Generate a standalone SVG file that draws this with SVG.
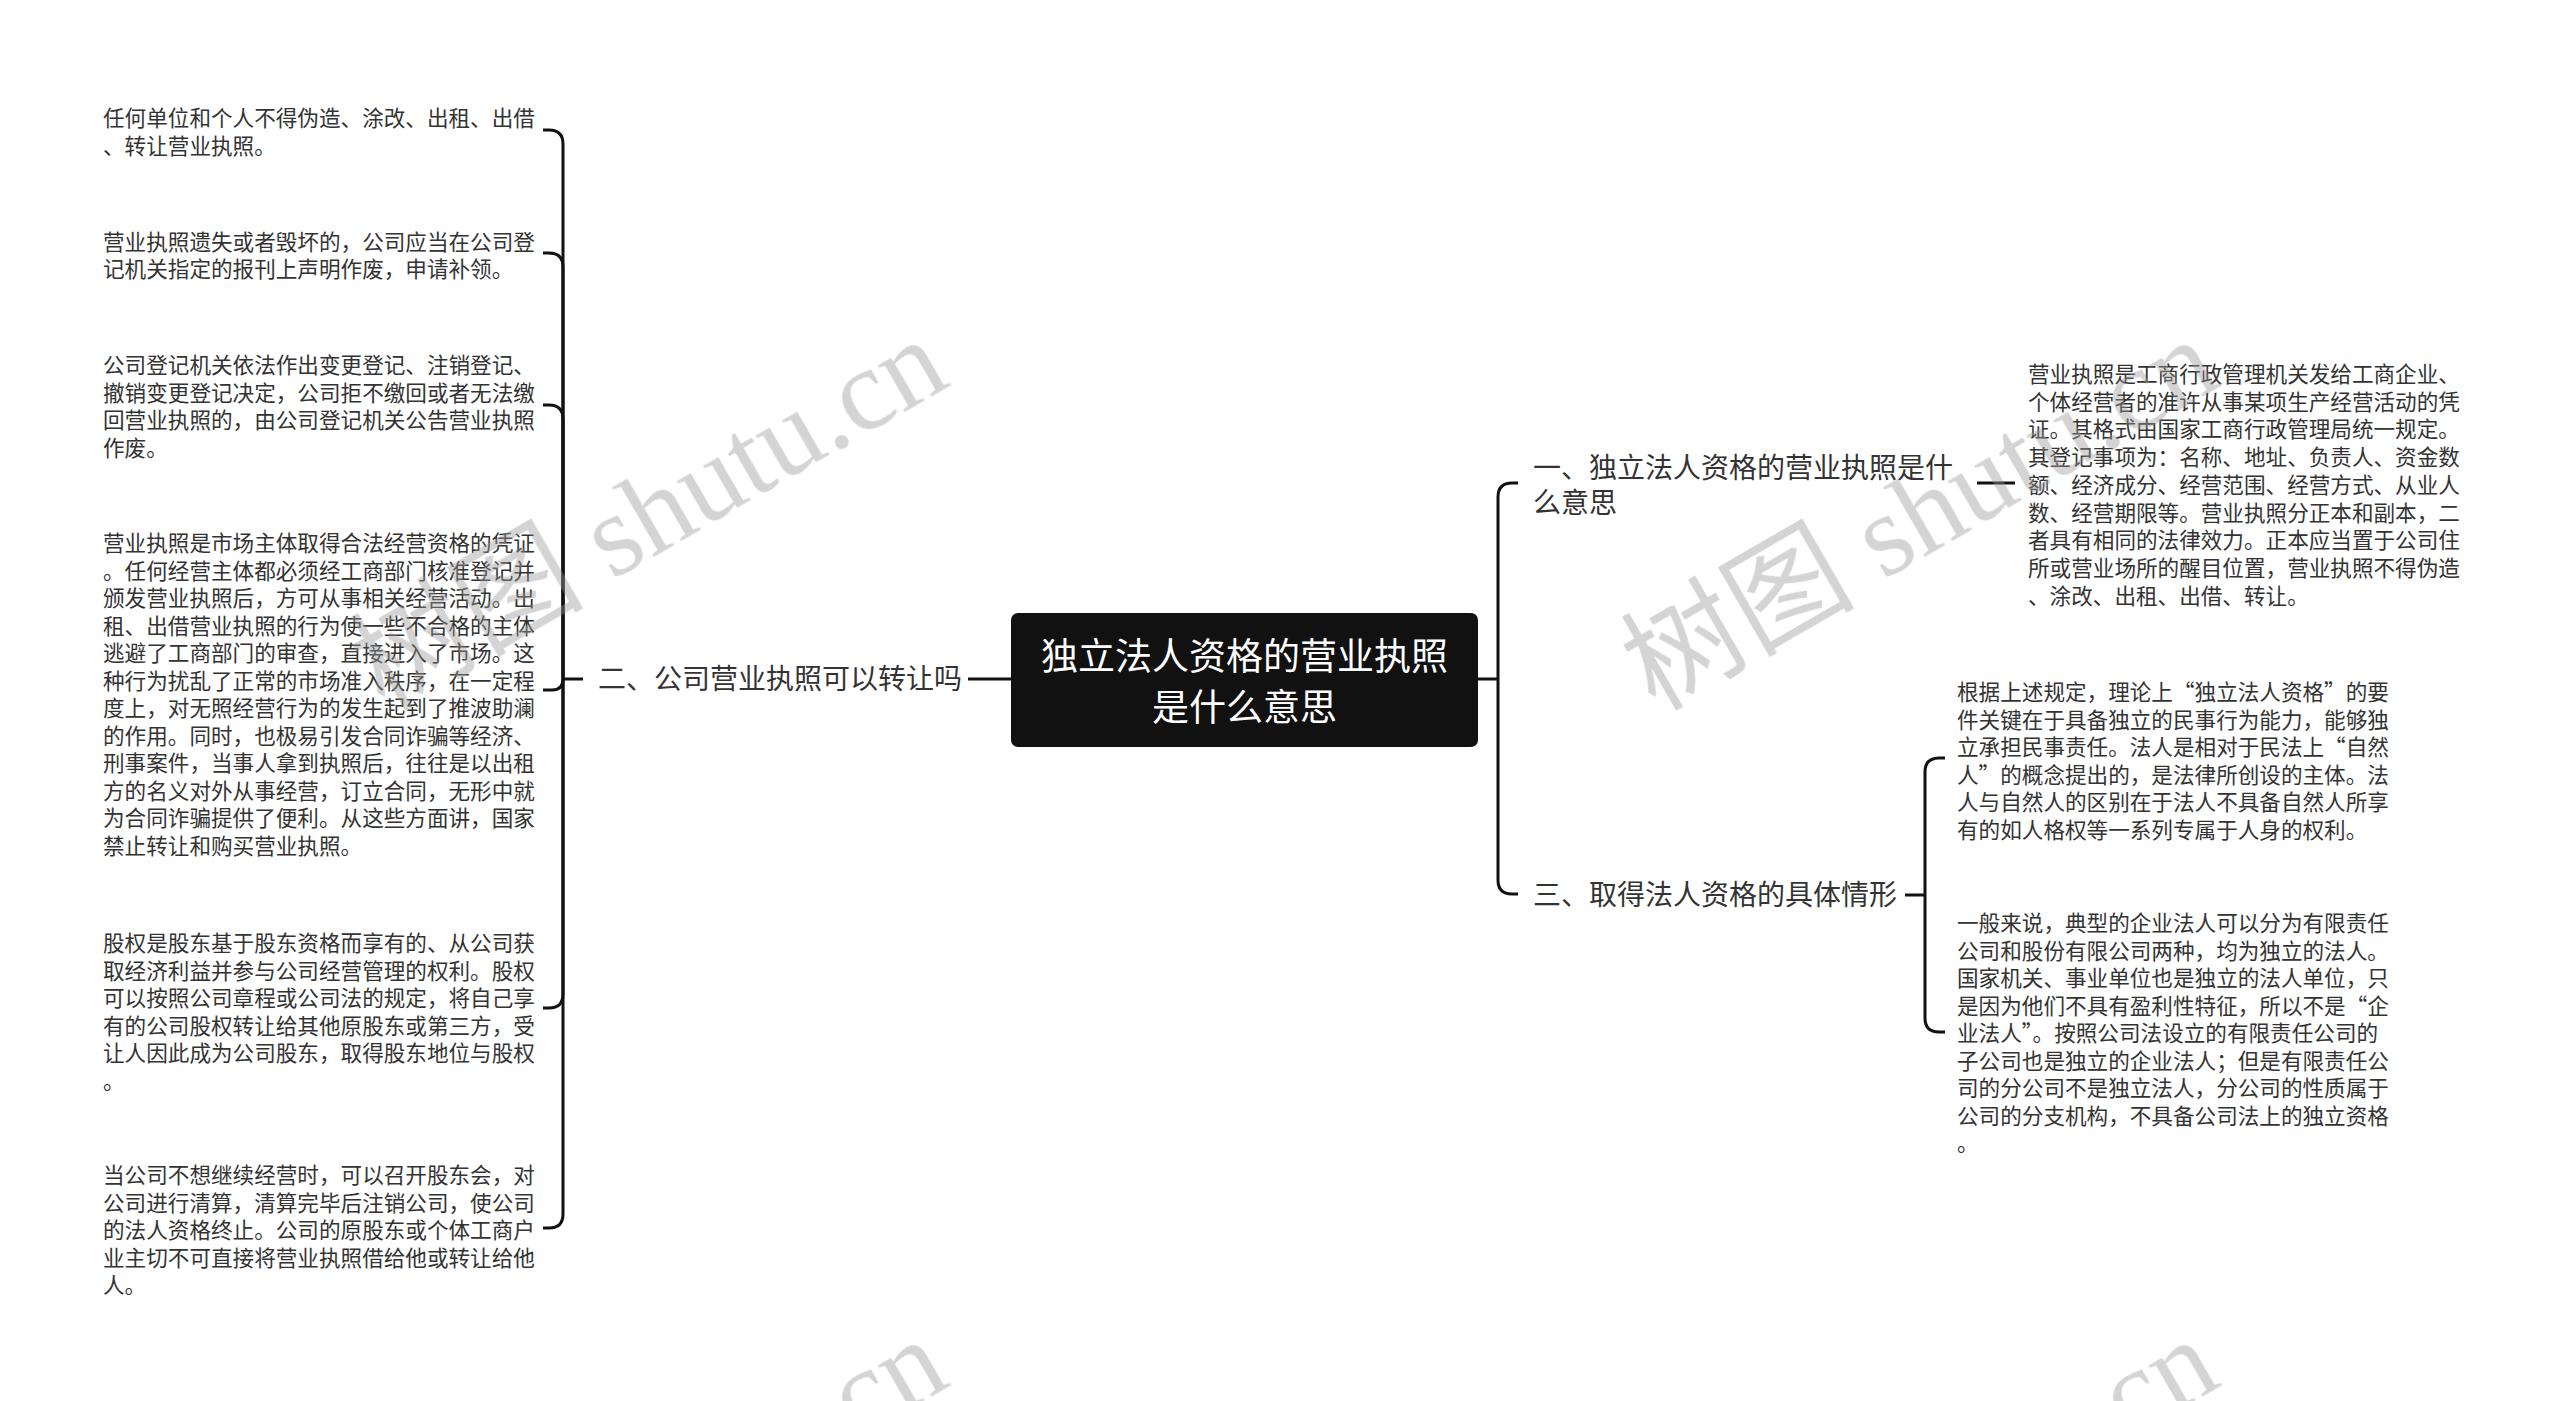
<svg xmlns="http://www.w3.org/2000/svg" width="2560" height="1401" viewBox="0 0 2560 1401">
<style>
.leaf{font-family:"Noto Sans CJK SC","Liberation Sans",sans-serif;font-size:21.6px;fill:#333333}
.branch{font-family:"Noto Sans CJK SC","Liberation Sans",sans-serif;font-size:28px;fill:#333333}
.root{font-family:"Noto Sans CJK SC","Liberation Sans",sans-serif;font-size:37px;fill:#ffffff;text-anchor:middle}
.conn{fill:none;stroke:#111111;stroke-width:3;stroke-linecap:butt;stroke-linejoin:round}
.wm{font-family:"Liberation Serif","Noto Sans CJK SC",serif;font-size:117px;fill:#9a9a9a}
</style>
<rect x="0" y="0" width="2560" height="1401" fill="#ffffff"/>
<g id="connectors">
<path class="conn" d="M1011 679 L968 679"/>
<path class="conn" d="M583 679 L563 679"/>
<path class="conn" d="M563 679 L563 144 Q563 130 549 130 L543 130"/>
<path class="conn" d="M563 679 L563 267 Q563 253 549 253 L543 253"/>
<path class="conn" d="M563 679 L563 419 Q563 405 549 405 L543 405"/>
<path class="conn" d="M563 679 Q563 690 552 690 L543 690"/>
<path class="conn" d="M563 679 L563 994 Q563 1008 549 1008 L543 1008"/>
<path class="conn" d="M563 679 L563 1214 Q563 1228 549 1228 L543 1228"/>
<path class="conn" d="M1478 679 L1498 679"/>
<path class="conn" d="M1498 679 L1498 497 Q1498 483 1512 483 L1518 483"/>
<path class="conn" d="M1498 679 L1498 880 Q1498 894 1512 894 L1518 894"/>
<path class="conn" d="M1977 483 L2015 483"/>
<path class="conn" d="M1905 895 L1925 895"/>
<path class="conn" d="M1925 895 L1925 772 Q1925 758 1939 758 L1945 758"/>
<path class="conn" d="M1925 895 L1925 1018 Q1925 1032 1939 1032 L1945 1032"/>
</g>
<g id="root">
<rect x="1011" y="613" width="467" height="134" rx="7" ry="7" fill="#111111"/>
<text class="root" x="1244.5" y="670">独立法人资格的营业执照</text>
<text class="root" x="1244.5" y="721">是什么意思</text>
</g>
<g id="branch2">
<text class="branch" x="598" y="689">二、公司营业执照可以转让吗</text>
</g>
<g id="leaf-l1">
<text class="leaf" x="103" y="126.3">任何单位和个人不得伪造、涂改、出租、出借</text>
<text class="leaf" x="103" y="153.8">、转让营业执照。</text>
</g>
<g id="leaf-l2">
<text class="leaf" x="103" y="249.7">营业执照遗失或者毁坏的，公司应当在公司登</text>
<text class="leaf" x="103" y="277.2">记机关指定的报刊上声明作废，申请补领。</text>
</g>
<g id="leaf-l3">
<text class="leaf" x="103" y="373">公司登记机关依法作出变更登记、注销登记、</text>
<text class="leaf" x="103" y="400.5">撤销变更登记决定，公司拒不缴回或者无法缴</text>
<text class="leaf" x="103" y="428">回营业执照的，由公司登记机关公告营业执照</text>
<text class="leaf" x="103" y="455.5">作废。</text>
</g>
<g id="leaf-l4">
<text class="leaf" x="103" y="551.3">营业执照是市场主体取得合法经营资格的凭证</text>
<text class="leaf" x="103" y="578.8">。任何经营主体都必须经工商部门核准登记并</text>
<text class="leaf" x="103" y="606.3">颁发营业执照后，方可从事相关经营活动。出</text>
<text class="leaf" x="103" y="633.8">租、出借营业执照的行为使一些不合格的主体</text>
<text class="leaf" x="103" y="661.3">逃避了工商部门的审查，直接进入了市场。这</text>
<text class="leaf" x="103" y="688.8">种行为扰乱了正常的市场准入秩序，在一定程</text>
<text class="leaf" x="103" y="716.3">度上，对无照经营行为的发生起到了推波助澜</text>
<text class="leaf" x="103" y="743.8">的作用。同时，也极易引发合同诈骗等经济、</text>
<text class="leaf" x="103" y="771.3">刑事案件，当事人拿到执照后，往往是以出租</text>
<text class="leaf" x="103" y="798.8">方的名义对外从事经营，订立合同，无形中就</text>
<text class="leaf" x="103" y="826.3">为合同诈骗提供了便利。从这些方面讲，国家</text>
<text class="leaf" x="103" y="853.8">禁止转让和购买营业执照。</text>
</g>
<g id="leaf-l5">
<text class="leaf" x="103" y="951.3">股权是股东基于股东资格而享有的、从公司获</text>
<text class="leaf" x="103" y="978.8">取经济利益并参与公司经营管理的权利。股权</text>
<text class="leaf" x="103" y="1006.3">可以按照公司章程或公司法的规定，将自己享</text>
<text class="leaf" x="103" y="1033.8">有的公司股权转让给其他原股东或第三方，受</text>
<text class="leaf" x="103" y="1061.3">让人因此成为公司股东，取得股东地位与股权</text>
<text class="leaf" x="103" y="1088.8">。</text>
</g>
<g id="leaf-l6">
<text class="leaf" x="103" y="1183">当公司不想继续经营时，可以召开股东会，对</text>
<text class="leaf" x="103" y="1210.5">公司进行清算，清算完毕后注销公司，使公司</text>
<text class="leaf" x="103" y="1238">的法人资格终止。公司的原股东或个体工商户</text>
<text class="leaf" x="103" y="1265.5">业主切不可直接将营业执照借给他或转让给他</text>
<text class="leaf" x="103" y="1293">人。</text>
</g>
<g id="branch1">
<text class="branch" x="1533" y="477.5">一、独立法人资格的营业执照是什</text>
<text class="branch" x="1533" y="512.5">么意思</text>
</g>
<g id="leaf-r1">
<text class="leaf" x="2028" y="382">营业执照是工商行政管理机关发给工商企业、</text>
<text class="leaf" x="2028" y="409.7">个体经营者的准许从事某项生产经营活动的凭</text>
<text class="leaf" x="2028" y="437.4">证。其格式由国家工商行政管理局统一规定。</text>
<text class="leaf" x="2028" y="465.1">其登记事项为：名称、地址、负责人、资金数</text>
<text class="leaf" x="2028" y="492.8">额、经济成分、经营范围、经营方式、从业人</text>
<text class="leaf" x="2028" y="520.5">数、经营期限等。营业执照分正本和副本，二</text>
<text class="leaf" x="2028" y="548.2">者具有相同的法律效力。正本应当置于公司住</text>
<text class="leaf" x="2028" y="575.9">所或营业场所的醒目位置，营业执照不得伪造</text>
<text class="leaf" x="2028" y="603.6">、涂改、出租、出借、转让。</text>
</g>
<g id="branch3">
<text class="branch" x="1533" y="905">三、取得法人资格的具体情形</text>
</g>
<g id="leaf-r2">
<text class="leaf" x="1957" y="700">根据上述规定，理论上“独立法人资格”的要</text>
<text class="leaf" x="1957" y="727.5">件关键在于具备独立的民事行为能力，能够独</text>
<text class="leaf" x="1957" y="755">立承担民事责任。法人是相对于民法上“自然</text>
<text class="leaf" x="1957" y="782.5">人”的概念提出的，是法律所创设的主体。法</text>
<text class="leaf" x="1957" y="810">人与自然人的区别在于法人不具备自然人所享</text>
<text class="leaf" x="1957" y="837.5">有的如人格权等一系列专属于人身的权利。</text>
</g>
<g id="leaf-r3">
<text class="leaf" x="1957" y="931">一般来说，典型的企业法人可以分为有限责任</text>
<text class="leaf" x="1957" y="958.5">公司和股份有限公司两种，均为独立的法人。</text>
<text class="leaf" x="1957" y="986">国家机关、事业单位也是独立的法人单位，只</text>
<text class="leaf" x="1957" y="1013.5">是因为他们不具有盈利性特征，所以不是“企</text>
<text class="leaf" x="1957" y="1041">业法人”。按照公司法设立的有限责任公司的</text>
<text class="leaf" x="1957" y="1068.5">子公司也是独立的企业法人；但是有限责任公</text>
<text class="leaf" x="1957" y="1096">司的分公司不是独立法人，分公司的性质属于</text>
<text class="leaf" x="1957" y="1123.5">公司的分支机构，不具备公司法上的独立资格</text>
<text class="leaf" x="1957" y="1151">。</text>
</g>
<g id="watermark" opacity="0.42">
<text class="wm" transform="translate(384 712) rotate(-30)">树图 shutu.cn</text>
<text class="wm" transform="translate(1655 712) rotate(-30)">树图 shutu.cn</text>
<text class="wm" transform="translate(384 1712) rotate(-30)">树图 shutu.cn</text>
<text class="wm" transform="translate(1655 1712) rotate(-30)">树图 shutu.cn</text>
</g>
</svg>
